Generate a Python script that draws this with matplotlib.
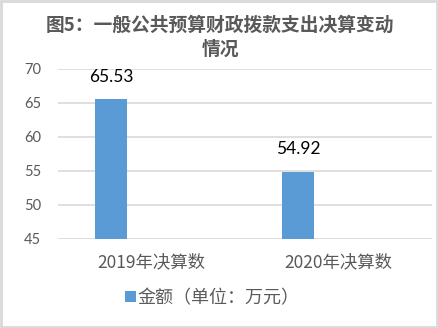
import matplotlib
matplotlib.use("Agg")
import matplotlib.pyplot as plt
from matplotlib.patches import Rectangle

categories = ["2019年决算数", "2020年决算数"]
values = [65.53, 54.92]
value_labels = ["65.53", "54.92"]
yticks = [45, 50, 55, 60, 65, 70]
title = "图5：一般公共预算财政拨款支出决算变动\n情况"
legend_label = "金额（单位：万元）"

plt.rcParams['font.family'] = ['Noto Sans CJK SC', 'DejaVu Sans']
gray = "#595959"
bar_color = "#5b9bd5"
grid_color = "#d9d9d9"

fig = plt.figure(figsize=(4.38, 3.28), dpi=100)
fig.patch.set_facecolor("white")
fig.add_artist(Rectangle((0.002, 0.003), 0.995, 0.994, transform=fig.transFigure,
                         fill=False, edgecolor="#d9d9d9", linewidth=2))

ax = fig.add_axes([58/438, 1-239/328, (432-58)/438, (239-69)/328])
xs = list(range(len(categories)))
offset = -0.214
bars = ax.bar([x + offset for x in xs], values, width=0.171, bottom=0,
              color=bar_color, label=legend_label, zorder=3)
ax.set_ylim(45, 70)
ax.set_xlim(-0.5, 1.5)
ax.set_yticks(yticks)
ax.set_yticklabels([str(t) for t in yticks], fontsize=10.5, color=gray,
                   family=['Lato', 'DejaVu Sans'])
ax.set_xticks(xs)
ax.set_xticklabels(categories, fontsize=12.5, color=gray)
ax.tick_params(axis='both', length=0)
ax.tick_params(axis='y', pad=12)
ax.tick_params(axis='x', pad=10)
ax.yaxis.grid(True, color=grid_color, linewidth=1.2, zorder=0)
for s in ax.spines.values():
    s.set_visible(False)

for x, v, lab in zip(xs, values, value_labels):
    ax.annotate(lab, (x + offset, v), xytext=(0, 16), textcoords="offset points",
                ha="center", va="center", fontsize=12.5, color="black",
                family=['Lato', 'DejaVu Sans'])

fig.text(220/438, 1-37/328, title, ha="center", va="center", fontsize=13.5,
         fontweight="bold", color=gray, linespacing=1.35)

fig.legend(handles=[bars], labels=[legend_label], loc="center",
           bbox_to_anchor=(212/438, 1-298/328), frameon=False, fontsize=13,
           handlelength=0.6, handleheight=0.6, handletextpad=0.1,
           labelcolor=gray)

fig.savefig("out.png", dpi=100, facecolor="white")
